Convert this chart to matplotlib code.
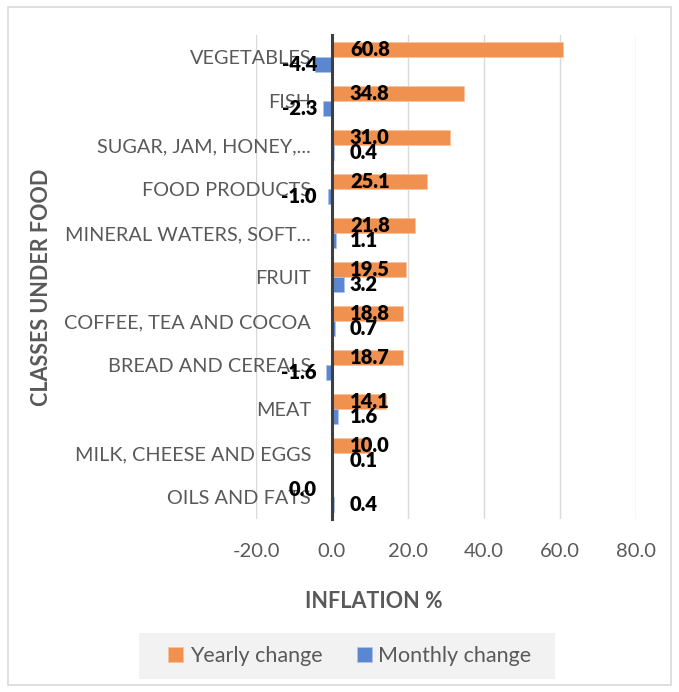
import matplotlib.pyplot as plt
import numpy as np
from matplotlib.patches import Rectangle

# ── data ──────────────────────────────────────────────────────────────────────
categories = [
    "VEGETABLES", "FISH", "SUGAR, JAM, HONEY,...", "FOOD PRODUCTS",
    "MINERAL WATERS, SOFT...", "FRUIT", "COFFEE, TEA AND COCOA",
    "BREAD AND CEREALS", "MEAT", "MILK, CHEESE AND EGGS", "OILS AND FATS",
]
yearly = [60.8, 34.8, 31.0, 25.1, 21.8, 19.5, 18.8, 18.7, 14.1, 10.0, 0.0]
monthly = [-4.4, -2.3, 0.4, -1.0, 1.1, 3.2, 0.7, -1.6, 1.6, 0.1, 0.4]
xticks = [-20, 0, 20, 40, 60, 80]

# ── style ─────────────────────────────────────────────────────────────────────
plt.rcParams["font.family"] = ["Lato", "DejaVu Sans"]
c_year, c_month = "#F0914F", "#5B86D0"
grey_txt = "#595959"

fig = plt.figure(figsize=(6.79, 6.92), dpi=100)
ax = fig.add_axes([256 / 679, 1 - 519 / 692, (636 - 256) / 679, (519 - 35) / 692])

# spine first: moving it resets the tick objects
for s in ("top", "right", "bottom"):
    ax.spines[s].set_visible(False)
ax.spines["left"].set_position(("data", 0))
ax.spines["left"].set_color("#3f3f3f")
ax.spines["left"].set_linewidth(2.2)
ax.spines["left"].set_zorder(3)

y = np.arange(len(categories))
h = 0.34
ax.barh(y - h / 2, yearly, height=h, color=c_year, edgecolor="#F7C3A0", lw=0.6,
        label="Yearly change", zorder=2)
ax.barh(y + h / 2, monthly, height=h, color=c_month, edgecolor="#B0C4EA", lw=0.6,
        label="Monthly change", zorder=2)

# data labels at the inside base of each bar
for yi, v in list(zip(y - h / 2, yearly)) + list(zip(y + h / 2, monthly)):
    pos = v > 0
    ax.annotate(f"{v:.1f}", (0, yi), xytext=(18 if pos else -15, 0),
                textcoords="offset pixels", ha="left" if pos else "right",
                va="center", fontsize=14.5, fontweight="heavy", color="black", zorder=4)

ax.set_xlim(-20, 80)
ax.set_ylim(len(categories) - 0.5, -0.5)
ax.set_xticks(xticks)
ax.set_xticklabels([f"{t:.1f}" for t in xticks], fontsize=14.5, color=grey_txt)
ax.set_yticks(y)
ax.set_yticklabels(categories, fontsize=14.3, color=grey_txt)
ax.tick_params(axis="both", length=0)
ax.tick_params(axis="y", pad=15)
ax.tick_params(axis="x", pad=17)
ax.grid(axis="x", color="#d9d9d9", lw=1, zorder=0)
ax.set_axisbelow(True)

fig.text(42 / 679, 1 - 287 / 692, "CLASSES UNDER FOOD", rotation=90, ha="center",
         va="center", fontsize=15.5, fontweight="bold", color=grey_txt)
fig.text(374 / 679, 1 - 602 / 692, "INFLATION %", ha="center", va="center",
         fontsize=15.5, fontweight="bold", color=grey_txt)

# legend box
fig.patches.append(Rectangle((139 / 679, 1 - 679 / 692), (555 - 139) / 679, 46 / 692,
                             transform=fig.transFigure, facecolor="#f2f2f2",
                             edgecolor="none", zorder=0))
leg = fig.legend(loc="center", bbox_to_anchor=(350 / 679, 1 - 656 / 692), ncol=2,
                 frameon=False, fontsize=15.5, handlelength=0.7, handleheight=0.7,
                 handletextpad=0.3, columnspacing=1.6)
for t in leg.get_texts():
    t.set_color(grey_txt)

# outer chart border
fig.patches.append(Rectangle((8 / 679, 1 - 685 / 692), (671 - 8) / 679, (685 - 7) / 692,
                             transform=fig.transFigure, facecolor="none",
                             edgecolor="#d9d9d9", lw=1.2, zorder=0))

fig.savefig("out.png", dpi=100)
